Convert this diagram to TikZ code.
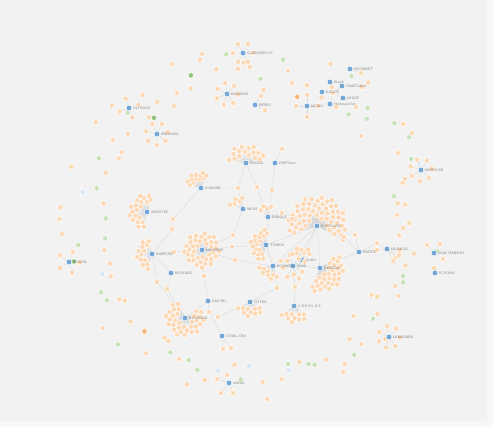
\documentclass[tikz,border=0pt]{standalone}
\usepackage{tikz}
\usetikzlibrary{calc,backgrounds}
\pgfdeclarelayer{base}
\pgfsetlayers{base,background,main}

\definecolor{bgc}{HTML}{F2F2F2}
\definecolor{edgec}{HTML}{F8F8F8}
\definecolor{peach}{HTML}{FDD8B4}
\definecolor{hubblue}{HTML}{72A7D8}
\definecolor{leaf}{HTML}{C8E2B8}
\definecolor{leafdk}{HTML}{8FC57C}
\definecolor{amber}{HTML}{F7B57A}
\definecolor{pale}{HTML}{D9E6F6}
\definecolor{linkc}{HTML}{D8D8D8}
\definecolor{lblc}{HTML}{808080}

% hub/x/y/label
\def\hublist{glob/243/53/GLOBOSED FC, ncom/350/69/NCOMBET, blux/330/82/BlueX,
  craf/342/86/CRAFTaMai, kudo/322/92/KUDOS, legu/343/98/LEGUE,
  hart/330/104/Hartmann Int., kans/227/94/KANSENZ, bese/255/105/BESEO,
  mcam/307/106/MCAM, ultr/129/108/ULTROVX, anna/157/134/ANNASEG,
  nord/421/170/NORDCAB, bags/246/163/BAGSIG, knpt/275/163/KNPTumt,
  icam/201/188/ICAMAEL, anos/147/212/ANOSTAF, meas/243/209/MEAS,
  pado/268/217/PADOLS, port/317/226/PORTLANS, tokm/266/245/TOKEM,
  niu/202/250/NIUMRDS, sgep/152/254/SGEPLAN, edap/69/262/EDAPAL,
  rpol/171/273/RPOLNEG, budc/359/252/BUDCE, leum/387/249/LEUMIGA,
  asal/434/253/ASALTENERGY, scyo/435/273/SCYONO, alba/302/260/ALBA,
  econ/273/266/ECONOM, simb/293/266/SIMB, gene/320/268/GENESAL,
  diac/208/301/DIACRU, gutx/250/302/GUTEX, crep/294/306/C.R.E.P.L.U.S,
  kogo/185/318/KOGEORA, stae/222/336/STAEL-CRA, lann/389/337/LANNDAEN,
  adnk/229/383/ADNIK}
% hub/tag/count/inner r/outer r/first angle/last angle
\def\fanlist{leum/le/4/12/14/-15/75, bags/ba/16/8/19/185/355,
  icam/ic/12/8/16/185/300, anos/ao/20/8/18/95/300, sgep/sg/13/8/16/100/265,
  niu/ni/38/6/18/0/360, kogo/ko/32/7/19/-40/250, tokm/to/18/7/16/95/285,
  port/po/56/8/30/160/390, gene/ge/30/7/24/-40/115, gutx/gu/10/7/15/20/160,
  crep/cr/10/8/17/30/150, econ/ec/8/7/14/60/180, simb/si/10/7/14/0/360,
  alba/al/7/7/13/200/340, meas/me/5/8/14/190/280, pado/pa/4/8/12/200/300}
% hub/tag/count/radius/start angle
\def\ringlist{glob/gl/6/10/-120, kans/ka/7/11/-100, mcam/mc/4/11/-90,
  ultr/ul/4/10/-110, anna/an/7/11/-115, nord/no/7/11/-110,
  lann/la/7/11/-100, edap/ed/5/11/-70}

\begin{document}
\begin{tikzpicture}[x=1pt,y=-1pt,
    petal/.style={circle,fill=peach,draw=white,line width=0.5pt,minimum size=5.4pt,inner sep=0pt},
    hub/.style={circle,fill=hubblue,draw=white,line width=0.5pt,minimum size=5.8pt,inner sep=0pt},
    link/.style={draw=linkc,line width=0.35pt},
    lbl/.style={font=\fontsize{3.6}{4.2}\selectfont\sffamily,text=lblc,inner sep=0.8pt,anchor=west}]

\useasboundingbox (0,0) rectangle (493,427);
\begin{pgfonlayer}{base}
  \fill[edgec] (0,0) rectangle (493,427);
  \fill[bgc] (0,0) rectangle (487,421);
\end{pgfonlayer}

% outer ring of loose nodes
\pgfmathsetseed{21}
\foreach \k in {1,...,124}{
  \pgfmathsetmacro{\oa}{\k*2.9032+rand*1.4}
  \pgfmathsetmacro{\of}{0.74+0.26*rnd}
  \pgfmathsetmacro{\oc}{rnd}
  \ifdim\oc pt<0.28pt \def\oco{leaf}\else
  \ifdim\oc pt<0.31pt \def\oco{amber}\else
  \ifdim\oc pt<0.33pt \def\oco{pale}\else
  \ifdim\oc pt<0.35pt \def\oco{leafdk}\else \def\oco{peach}\fi\fi\fi\fi
  \node[petal,fill=\oco] (o-\k) at ({252+193*\of*cos(\oa)},{222+178*\of*sin(\oa)}) {};
}

% hubs
\foreach \h/\x/\y/\txt in \hublist
  \node[hub] (\h) at (\x,\y) {};

% petals
\foreach \h/\t/\n/\ra/\rb/\ao/\ae in \fanlist {
  \foreach \i in {1,...,\n} {
    \pgfmathsetmacro{\rr}{sqrt(\ra*\ra+(\rb*\rb-\ra*\ra)/\n*(\i-0.5))}
    \pgfmathsetmacro{\aa}{\ao+(\ae-\ao)*mod(\i*0.618034,1)}
    \node[petal] (\t-\i) at ($(\h)+(\aa:\rr)$) {};
  }}
\foreach \h/\t/\n/\ra/\ao in \ringlist {
  \foreach \i in {1,...,\n} {
    \pgfmathsetmacro{\aa}{\ao+360/\n*(\i-1)}
    \node[petal] (\t-\i) at ($(\h)+(\aa:\ra)$) {};
  }}

\node[petal] (be-1) at (261,96) {};
\node[petal] (be-2) at (265,110) {};
\node[petal] (ad-1) at (217,379) {};
\node[petal] (ad-2) at (221,393) {};
\node[petal] (ad-3) at (233,393) {};
\node[petal] (as-1) at (427,245) {};
\node[petal] (as-2) at (440,244) {};
\node[petal] (as-3) at (443,259) {};
\node[petal] (st-1) at (223,349) {};
\node[petal] (st-2) at (231,348) {};
\node[petal] (nc-1) at (361,73) {};
\node[petal] (kn-1) at (282,149) {};
\node[petal] (tc) at (333,93) {};
\node[petal] (t1) at (362,87) {};
\node[petal] (t2) at (356,107) {};

% go-between nodes
\node[petal] (d1) at (238,188) {};
\node[petal] (d2) at (257,187) {};
\node[petal] (d3) at (272,190) {};
\node[petal] (d4) at (173,219) {};
\node[petal] (d5) at (172,229) {};
\node[petal] (d6) at (233,235) {};
\node[petal] (d7) at (282,213) {};
\node[petal] (d8) at (292,219) {};
\node[petal] (d9) at (232,247) {};
\node[petal] (d10) at (235,260) {};
\node[petal] (d11) at (204,276) {};
\node[petal] (d12) at (157,282) {};
\node[petal] (d13) at (167,289) {};
\node[petal] (d14) at (209,312) {};
\node[petal] (d15) at (218,317) {};
\node[petal] (d16) at (277,288) {};
\node[petal] (d18) at (295,287) {};
\node[petal] (d19) at (344,237) {};
\node[petal] (d20) at (355,235) {};
\node[petal] (d21) at (377,243) {};
\node[petal] (d22) at (377,250) {};
\node[petal] (d23) at (174,252) {};

% labels last, so they sit over the petals
\foreach \h/\x/\y/\txt in \hublist
  \node[lbl] (\h-l) at (\h.east) {\txt};

\begin{pgfonlayer}{background}
\foreach \h/\t/\n/\ra/\rb/\ao/\ae in \fanlist {
  \draw[link] \foreach \i in {1,...,\n} {(\h) -- (\t-\i)};}
\foreach \h/\t/\n/\ra/\ao in \ringlist {
  \draw[link] \foreach \i in {1,...,\n} {(\h) -- (\t-\i)};}
\draw[link] (bese) -- (be-1) (bese) -- (be-2)
  (adnk) -- (ad-1) (adnk) -- (ad-2) (adnk) -- (ad-3)
  (asal) -- (as-1) (asal) -- (as-2) (asal) -- (as-3)
  (stae) -- (st-1) (stae) -- (st-2)
  (ncom) -- (nc-1) (knpt) -- (kn-1)
  (tc) -- (blux) (tc) -- (craf) (tc) -- (kudo) (tc) -- (legu) (tc) -- (hart)
  (craf) -- (t1) (legu) -- (t2);
\draw[link] (bags) -- (d1) (icam) -- (d1) (d1) -- (meas)
  (bags) -- (d2) (d2) -- (pado) (knpt) -- (d3) (d3) -- (pado)
  (icam) -- (d4) (d4) -- (d5) (d5) -- (sgep)
  (meas) -- (d6) (d6) -- (niu)
  (pado) -- (d7) (d7) -- (port) (pado) -- (d8) (d8) -- (port)
  (niu) -- (d9) (d9) -- (tokm) (niu) -- (d10) (d10) -- (econ)
  (niu) -- (d11) (d11) -- (diac)
  (sgep) -- (rpol) (rpol) -- (d13) (d13) -- (kogo)
  (sgep) -- (d12) (d12) -- (kogo) (sgep) -- (d23) (d23) -- (niu)
  (diac) -- (kogo) (diac) -- (d14) (d14) -- (stae) (d14) -- (d15) (d15) -- (gutx)
  (gutx) -- (d16) (d16) -- (econ)
  (crep) -- (d18) (d18) -- (simb)
  (port) -- (d19) (d19) -- (budc) (port) -- (d20) (d20) -- (budc)
  (gene) -- (budc) (budc) -- (d21) (d21) -- (leum) (budc) -- (d22) (d22) -- (leum)
  (port) -- (tokm) (port) -- (econ) (port) -- (simb) (port) -- (alba) (port) -- (gene)
  (tokm) -- (econ) (tokm) -- (pado) (alba) -- (simb) (simb) -- (gene) (econ) -- (simb);
\end{pgfonlayer}

\end{tikzpicture}
\end{document}
